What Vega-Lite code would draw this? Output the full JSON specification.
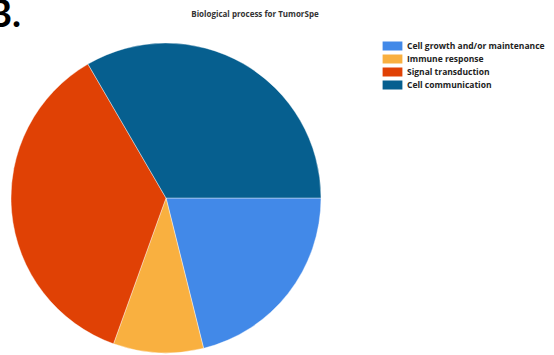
{
  "$schema": "https://vega.github.io/schema/vega-lite/v6.json",
  "width": 332,
  "height": 314,
  "autosize": "none",
  "padding": {"left": 0, "top": 41, "right": 222, "bottom": 0},
  "background": "white",
  "config": {"view": {"stroke": null}},
  "layer": [
    {
      "data": {
        "values": [
          {"process": "Cell growth and/or maintenance", "rank": 1, "value": 21.1},
          {"process": "Immune response", "rank": 2, "value": 9.4},
          {"process": "Signal transduction", "rank": 3, "value": 36.1},
          {"process": "Cell communication", "rank": 4, "value": 33.4}
        ]
      },
      "mark": {"type": "arc", "outerRadius": 155, "stroke": "white", "strokeWidth": 0.4},
      "encoding": {
        "theta": {"field": "value", "type": "quantitative", "stack": true, "scale": {"range": [1.5708, 7.854]}},
        "order": {"field": "rank", "type": "quantitative"},
        "color": {
          "field": "process",
          "type": "nominal",
          "sort": ["Cell growth and/or maintenance", "Immune response", "Signal transduction", "Cell communication"],
          "scale": {
            "domain": ["Cell growth and/or maintenance", "Immune response", "Signal transduction", "Cell communication"],
            "range": ["#4289e8", "#f9b040", "#e04105", "#065f8f"]
          },
          "legend": {
            "title": null,
            "orient": "none",
            "legendX": 388,
            "legendY": 0.5,
            "symbolType": "M-2.2,-1H2.2V1H-2.2Z",
            "symbolSize": 81,
            "symbolStrokeWidth": 0,
            "rowPadding": 4,
            "labelFont": "Open Sans",
            "labelFontSize": 8.5,
            "labelFontWeight": "bold",
            "labelColor": "#222222",
            "labelOffset": 10,
            "labelLimit": 200
          }
        }
      }
    },
    {
      "data": {"values": [{"label": "B."}]},
      "mark": {"type": "text", "font": "Lato", "fontSize": 38, "fontWeight": "bold", "align": "left", "baseline": "alphabetic", "x": -13, "y": -14, "color": "#000000"},
      "encoding": {"text": {"field": "label", "type": "nominal"}}
    },
    {
      "data": {"values": [{"label": "Biological process for TumorSpe"}]},
      "mark": {"type": "text", "font": "Open Sans", "fontSize": 8, "fontWeight": "bold", "align": "center", "baseline": "middle", "x": 255, "y": -26, "color": "#333333"},
      "encoding": {"text": {"field": "label", "type": "nominal"}}
    }
  ]
}
